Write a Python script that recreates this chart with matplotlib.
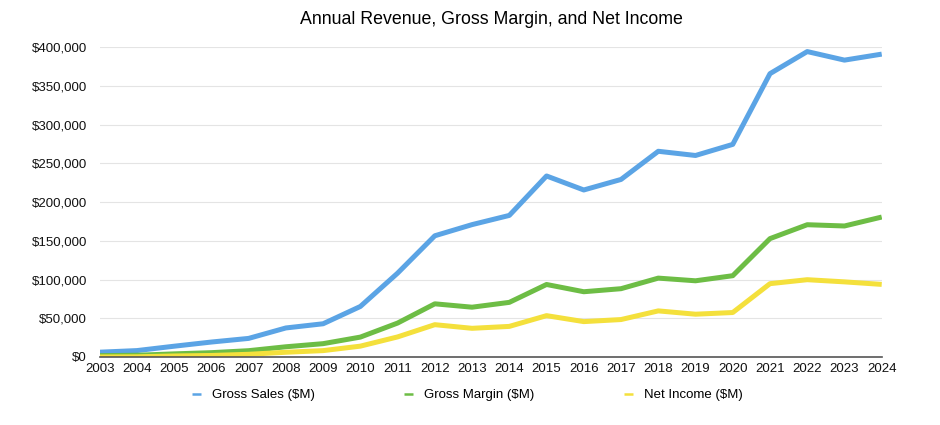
import matplotlib.pyplot as plt
from matplotlib.ticker import FuncFormatter

plt.rcParams['font.family'] = ['Liberation Sans', 'DejaVu Sans']

years = list(range(2003, 2025))
gross_sales = [6207, 8279, 13931, 19315, 24006, 37491, 42905, 65225, 108249, 156508,
               170910, 182795, 233715, 215639, 229234, 265595, 260174, 274515,
               365817, 394328, 383285, 391035]
gross_margin = [1708, 2259, 4043, 5598, 8154, 13197, 17222, 25684, 43818, 68662,
                64304, 70537, 93626, 84263, 88186, 101839, 98392, 104956,
                152836, 170782, 169148, 180683]
net_income = [69, 276, 1328, 1989, 3496, 6119, 8235, 14013, 25922, 41733,
              37037, 39510, 53394, 45687, 48351, 59531, 55256, 57411,
              94680, 99803, 96995, 93736]

fig = plt.figure(figsize=(9.4, 4.25), dpi=100)
ax = fig.add_axes([0.106, 0.16, 0.832, 0.729])

lw = 3.6
ax.plot(years, gross_sales, color='#5BA4E5', lw=lw, label='Gross Sales ($M)', solid_capstyle='butt')
ax.plot(years, gross_margin, color='#6DBD45', lw=lw, label='Gross Margin ($M)', solid_capstyle='butt')
ax.plot(years, net_income, color='#F4E03C', lw=lw, label='Net Income ($M)', solid_capstyle='butt')

ax.set_xlim(2003, 2024)
ax.set_ylim(0, 400000)
ax.set_xticks(years)
ax.set_yticks(range(0, 400001, 50000))
ax.yaxis.set_major_formatter(FuncFormatter(lambda v, p: f'${v:,.0f}'))
ax.tick_params(length=0, labelsize=9.5, colors='#111111')
ax.tick_params(axis='x', pad=4)
ax.tick_params(axis='y', pad=9)
ax.grid(axis='y', color='#e4e4e4', lw=0.8)
ax.set_axisbelow(True)
for s in ['top', 'right', 'left']:
    ax.spines[s].set_visible(False)
ax.spines['bottom'].set_color('#555555')
ax.spines['bottom'].set_linewidth(1.2)

fig.text(0.523, 0.953, 'Annual Revenue, Gross Margin, and Net Income',
         ha='center', va='center', fontsize=12.8)
leg = fig.legend(loc='center', bbox_to_anchor=(0.497, 0.07), ncol=3, frameon=False,
                 fontsize=9.5, handlelength=0.7, columnspacing=6.8, handletextpad=0.8)
for h in leg.legend_handles:
    h.set_linewidth(1.8)

fig.savefig('out.png', dpi=100)
